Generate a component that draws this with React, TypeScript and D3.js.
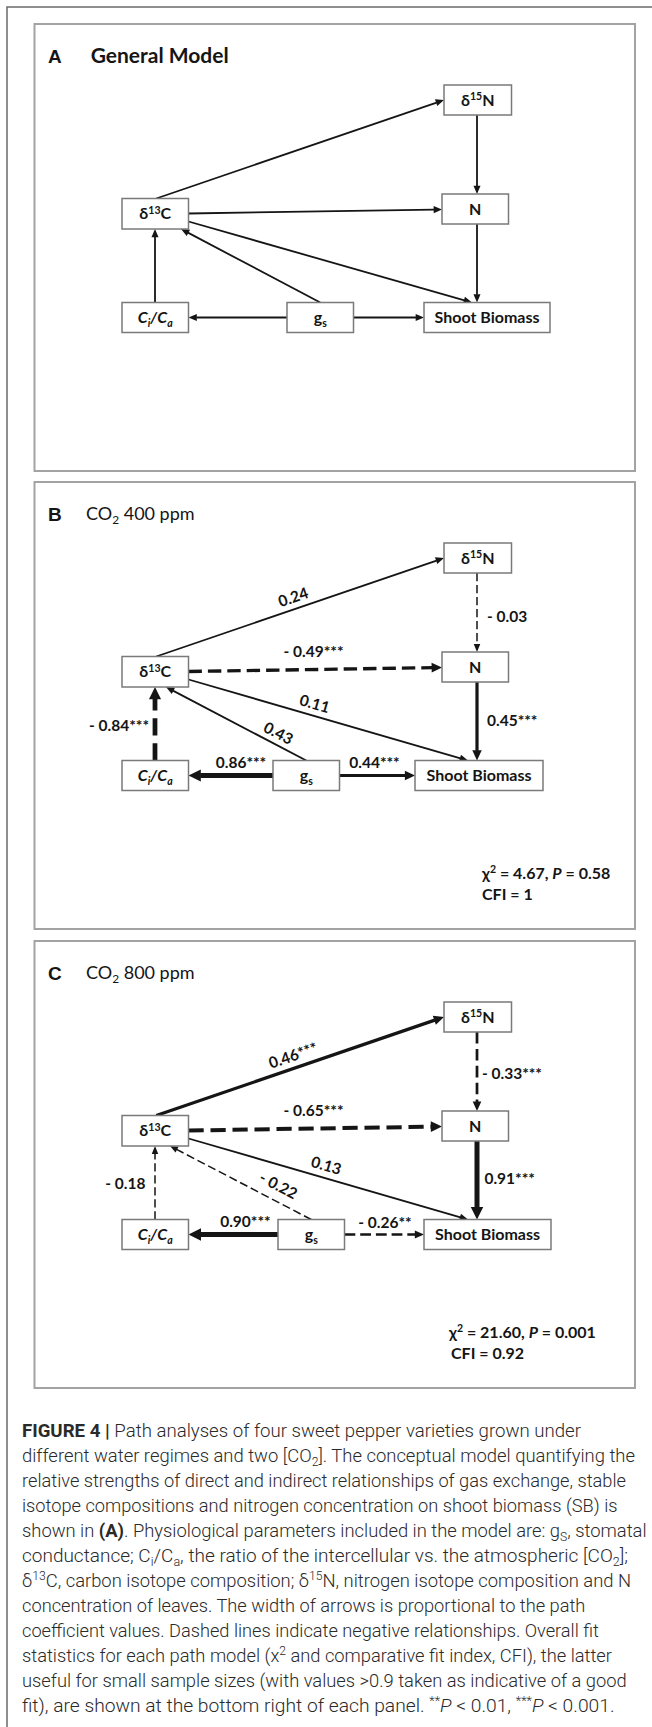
import React from "react";
import * as d3 from "d3";

// ---------------- data ----------------
const NODE_IDS = ["d15N", "N", "d13C", "CiCa", "gs", "SB"];
const EDGE_FROM = ["d13C", "d15N", "d13C", "d13C", "N", "gs", "CiCa", "gs", "gs"];
const EDGE_TO = ["d15N", "N", "N", "SB", "SB", "d13C", "d13C", "CiCa", "SB"];
const COEF_400 = [0.24, -0.03, -0.49, 0.11, 0.45, 0.43, -0.84, 0.86, 0.44];
const SIG_400 = ["", "", "***", "", "***", "", "***", "***", "***"];
const COEF_800 = [0.46, -0.33, -0.65, 0.13, 0.91, -0.22, -0.18, 0.9, -0.26];
const SIG_800 = ["***", "***", "***", "", "***", "", "", "***", "**"];
const PANEL_LETTERS = ["A", "B", "C"];
const PANEL_CO2 = ["", "400", "800"];
const CHI2 = ["", "4.67", "21.60"];
const P_VALUES = ["", "0.58", "0.001"];
const CFI_VALUES = ["", "1", "0.92"];

// ---------------- layout ----------------
const W = 652;
const H = 1727;
const PANEL_TOP = [24, 482, 941];
const PANEL_X = 34.5;
const PANEL_W = 600.5;
const PANEL_H = 447;
const GS_X = [287, 273, 278];
const SB_X = [424, 415, 424];
const SB_W = [126, 128, 127];
const GS_TARGET_X = [181, 166, 170];
const SB_TARGET_X = [472, 468, 468];

const DIAG_FONT = "Lato, 'Open Sans', sans-serif";
const INK = "#151515";

type Seg = { t: string; sup?: boolean; sub?: boolean; b?: boolean; i?: boolean };

function Rich({ segs, fs }: { segs: Seg[]; fs: number }) {
  let shift = 0;
  return (
    <>
      {segs.map((s, k) => {
        const target = s.sup ? -fs * 0.36 : s.sub ? fs * 0.24 : 0;
        const dy = target - shift;
        shift = target;
        return (
          <tspan
            key={k}
            dy={dy !== 0 ? dy : undefined}
            fontSize={s.sup || s.sub ? fs * 0.66 : undefined}
            fontWeight={s.b ? "bold" : undefined}
            fontStyle={s.i ? "italic" : undefined}
          >
            {s.t}
          </tspan>
        );
      })}
    </>
  );
}

const NODE_LABELS: Record<string, Seg[]> = {
  d15N: [{ t: "δ" }, { t: "15", sup: true }, { t: "N" }],
  N: [{ t: "N" }],
  d13C: [{ t: "δ" }, { t: "13", sup: true }, { t: "C" }],
  CiCa: [{ t: "C", i: true }, { t: "i", sub: true, i: true }, { t: "/C", i: true }, { t: "a", sub: true, i: true }],
  gs: [{ t: "g" }, { t: "s", sub: true }],
  SB: [{ t: "Shoot Biomass" }],
};

function box(id: string, p: number) {
  switch (id) {
    case "d15N":
      return { x: 444, y: 61, w: 67.5, h: 30 };
    case "N":
      return { x: 442, y: 170, w: 66.5, h: 30 };
    case "d13C":
      return { x: 122, y: 174.5, w: 66.5, h: 30.5 };
    case "CiCa":
      return { x: 122, y: 278.5, w: 66.5, h: 30 };
    case "gs":
      return { x: GS_X[p], y: 278.5, w: 66.5, h: 30 };
    default:
      return { x: SB_X[p], y: 278.5, w: SB_W[p], h: 30 };
  }
}

function edgePts(i: number, p: number): [number, number, number, number] {
  const from = box(EDGE_FROM[i], p);
  const to = box(EDGE_TO[i], p);
  switch (i) {
    case 0:
      return [from.x + from.w / 2 + 1, from.y, to.x, to.y + to.h / 2];
    case 1:
      return [477, from.y + from.h, 477, to.y];
    case 2:
      return [from.x + from.w, from.y + 15, to.x, to.y + 15.5];
    case 3:
      return [from.x + from.w, from.y + 23, SB_TARGET_X[p], to.y];
    case 4:
      return [477, from.y + from.h, 477, to.y];
    case 5:
      return [from.x + from.w / 2, from.y, GS_TARGET_X[p], to.y + to.h];
    case 6:
      return [155, from.y, 155, to.y + to.h];
    case 7:
      return [from.x, from.y + from.h / 2, to.x + to.w, to.y + to.h / 2];
    default:
      return [from.x + from.w, from.y + from.h / 2, to.x, to.y + to.h / 2];
  }
}

type LP = { x: number; y: number; a: "start" | "middle" | "end"; rot?: boolean };
const LABEL_POS: LP[][] = [
  [],
  [
    { x: 293, y: 114.7, a: "middle", rot: true },
    { x: 487, y: 133.7, a: "start" },
    { x: 313.5, y: 168.7, a: "middle" },
    { x: 314.8, y: 221.3, a: "middle", rot: true },
    { x: 487, y: 238, a: "start" },
    { x: 278.6, y: 250.7, a: "middle", rot: true },
    { x: 149, y: 243, a: "end" },
    { x: 241, y: 279.7, a: "middle" },
    { x: 374.5, y: 279.7, a: "middle" },
  ],
  [
    { x: 293, y: 114, a: "middle", rot: true },
    { x: 482, y: 131.7, a: "start" },
    { x: 313.5, y: 169, a: "middle" },
    { x: 326.4, y: 224, a: "middle", rot: true },
    { x: 484.4, y: 237.3, a: "start" },
    { x: 278.6, y: 244, a: "middle", rot: true },
    { x: 145.5, y: 242.3, a: "end" },
    { x: 245.4, y: 279.7, a: "middle" },
    { x: 385, y: 281, a: "middle" },
  ],
];
const STAT_X = [0, 482, 449];
const CFI_X = [0, 482, 451];

const wScale = d3.scaleLinear().domain([0.2, 0.9]).range([2.2, 5]).clamp(true);
const lineGen = d3.line();

function Arrow({ pts, w, dashed }: { pts: [number, number, number, number]; w: number; dashed: boolean }) {
  const [x1, y1, x2, y2] = pts;
  const L = Math.hypot(x2 - x1, y2 - y1);
  const ux = (x2 - x1) / L;
  const uy = (y2 - y1) / L;
  const hl = 6 + w * 1.3;
  const hw = 4 + w * 1.7;
  const bx = x2 - ux * hl;
  const by = y2 - uy * hl;
  const d = lineGen([
    [x1, y1],
    [bx + ux * 0.5, by + uy * 0.5],
  ]) as string;
  const poly = [
    [x2, y2],
    [bx - (uy * hw) / 2, by + (ux * hw) / 2],
    [bx + (uy * hw) / 2, by - (ux * hw) / 2],
  ]
    .map((q) => q.join(","))
    .join(" ");
  return (
    <g>
      <path
        d={d}
        fill="none"
        stroke={INK}
        strokeWidth={w}
        strokeDasharray={dashed ? `${(w * 2.8 + 4).toFixed(1)},${(w * 1.2 + 2).toFixed(1)}` : undefined}
      />
      <polygon points={poly} fill={INK} />
    </g>
  );
}

function fmt(v: number) {
  return v < 0 ? "- " + Math.abs(v).toFixed(2) : v.toFixed(2);
}

function Panel({ p }: { p: number }) {
  const top = PANEL_TOP[p];
  const coefs = p === 1 ? COEF_400 : p === 2 ? COEF_800 : null;
  const sigs = p === 1 ? SIG_400 : p === 2 ? SIG_800 : null;
  return (
    <g>
      <rect x={PANEL_X} y={top} width={PANEL_W} height={PANEL_H} fill="#fff" stroke="#a3a3a3" strokeWidth={2} />
      <g transform={`translate(0,${top})`}>
        <text x={48} y={39} fontFamily="'Liberation Sans', Arial, sans-serif" fontWeight="bold" fontSize={19} fill={INK}>
          {PANEL_LETTERS[p]}
        </text>
        {p === 0 ? (
          <text x={90.7} y={39} fontFamily={DIAG_FONT} fontWeight="bold" fontSize={21} fill={INK}>
            General Model
          </text>
        ) : (
          <text x={86} y={38} fontFamily={DIAG_FONT} fontSize={18} fill={INK}>
            <Rich fs={18} segs={[{ t: "CO" }, { t: "2", sub: true }, { t: ` ${PANEL_CO2[p]} ppm` }]} />
          </text>
        )}
        {/* edges */}
        {EDGE_FROM.map((_, i) => {
          const v = coefs ? coefs[i] : 1;
          const sig = sigs ? sigs[i] : "";
          const w = !coefs ? 1.8 : sig ? wScale(Math.abs(v)) : v < 0 ? 1.5 : 1.8;
          return <Arrow key={i} pts={edgePts(i, p)} w={w} dashed={v < 0} />;
        })}
        {/* nodes */}
        {NODE_IDS.map((id) => {
          const b = box(id, p);
          return (
            <g key={id}>
              <rect x={b.x} y={b.y} width={b.w} height={b.h} fill="#fff" stroke="#7a7a7a" strokeWidth={1.5} />
              <text
                x={b.x + b.w / 2}
                y={b.y + b.h / 2 + 5.6}
                textAnchor="middle"
                fontFamily={DIAG_FONT}
                fontWeight="bold"
                fontSize={16}
                fill={INK}
              >
                <Rich fs={16} segs={NODE_LABELS[id]} />
              </text>
            </g>
          );
        })}
        {/* coefficient labels */}
        {coefs &&
          sigs &&
          coefs.map((v, i) => {
            const lp = LABEL_POS[p][i];
            let rot = 0;
            if (lp.rot) {
              const [x1, y1, x2, y2] = edgePts(i, p);
              rot = (Math.atan2(y2 - y1, x2 - x1) * 180) / Math.PI;
              if (rot > 90) rot -= 180;
              if (rot < -90) rot += 180;
            }
            return (
              <text
                key={i}
                x={lp.x}
                y={lp.y}
                textAnchor={lp.a}
                dominantBaseline="central"
                transform={rot ? `rotate(${rot.toFixed(2)},${lp.x},${lp.y})` : undefined}
                fontFamily={DIAG_FONT}
                fontWeight="bold"
                fontSize={15.5}
                fill={INK}
              >
                {fmt(v) + sigs[i]}
              </text>
            );
          })}
        {/* fit statistics */}
        {p > 0 && (
          <g fontFamily={DIAG_FONT} fontWeight="bold" fontSize={16} fill={INK}>
            <text x={STAT_X[p]} y={396.7}>
              <Rich
                fs={16}
                segs={[
                  { t: "χ" },
                  { t: "2", sup: true },
                  { t: ` = ${CHI2[p]},  ` },
                  { t: "P", i: true },
                  { t: ` = ${P_VALUES[p]}` },
                ]}
              />
            </text>
            <text x={CFI_X[p]} y={418}>
              {`CFI = ${CFI_VALUES[p]}`}
            </text>
          </g>
        )}
      </g>
    </g>
  );
}

const CAPTION: Seg[][] = [
  [{ t: "FIGURE 4 | ", b: true }, { t: "Path analyses of four sweet pepper varieties grown under" }],
  [{ t: "different water regimes and two [CO" }, { t: "2", sub: true }, { t: "]. The conceptual model quantifying the" }],
  [{ t: "relative strengths of direct and indirect relationships of gas exchange, stable" }],
  [{ t: "isotope compositions and nitrogen concentration on shoot biomass (SB) is" }],
  [
    { t: "shown in " },
    { t: "(A)", b: true },
    { t: ". Physiological parameters included in the model are: g" },
    { t: "S", sub: true },
    { t: ", stomatal" },
  ],
  [
    { t: "conductance; C" },
    { t: "i", sub: true },
    { t: "/C" },
    { t: "a", sub: true },
    { t: ", the ratio of the intercellular vs. the atmospheric [CO" },
    { t: "2", sub: true },
    { t: "];" },
  ],
  [
    { t: "δ" },
    { t: "13", sup: true },
    { t: "C, carbon isotope composition; δ" },
    { t: "15", sup: true },
    { t: "N, nitrogen isotope composition and N" },
  ],
  [{ t: "concentration of leaves. The width of arrows is proportional to the path" }],
  [{ t: "coefficient values. Dashed lines indicate negative relationships. Overall fit" }],
  [{ t: "statistics for each path model (x" }, { t: "2", sup: true }, { t: " and comparative fit index, CFI), the latter" }],
  [{ t: "useful for small sample sizes (with values >0.9 taken as indicative of a good" }],
  [
    { t: "fit), are shown at the bottom right of each panel. " },
    { t: "**", sup: true },
    { t: "P", i: true },
    { t: " < 0.01, " },
    { t: "***", sup: true },
    { t: "P", i: true },
    { t: " < 0.001." },
  ],
];
const CAPTION_LEN = [559, 613, 604, 595.5, 624.6, 606, 609, 563.4, 576.8, 590, 604.6, 592.5];

export default function App() {
  return (
    <svg
      width={W}
      height={H}
      viewBox={`0 0 ${W} ${H}`}
      style={{ position: "absolute", left: 0, top: 0, background: "#fff" }}
    >
      <rect x={0} y={0} width={W} height={H} fill="#fff" />
      <rect x={7} y={7} width={W + 20} height={H + 20} fill="none" stroke="#6a6a6a" strokeWidth={1.5} />
      {PANEL_LETTERS.map((_, p) => (
        <Panel key={p} p={p} />
      ))}
      <g fontFamily="Roboto, 'Liberation Sans', sans-serif" fontWeight={300} fontSize={18.5} fill="#2a2a2a">
        {CAPTION.map((segs, k) => (
          <text key={k} x={22} y={1437 + k * 25} textLength={CAPTION_LEN[k]} lengthAdjust="spacingAndGlyphs">
            <Rich fs={18.5} segs={segs} />
          </text>
        ))}
      </g>
    </svg>
  );
}
